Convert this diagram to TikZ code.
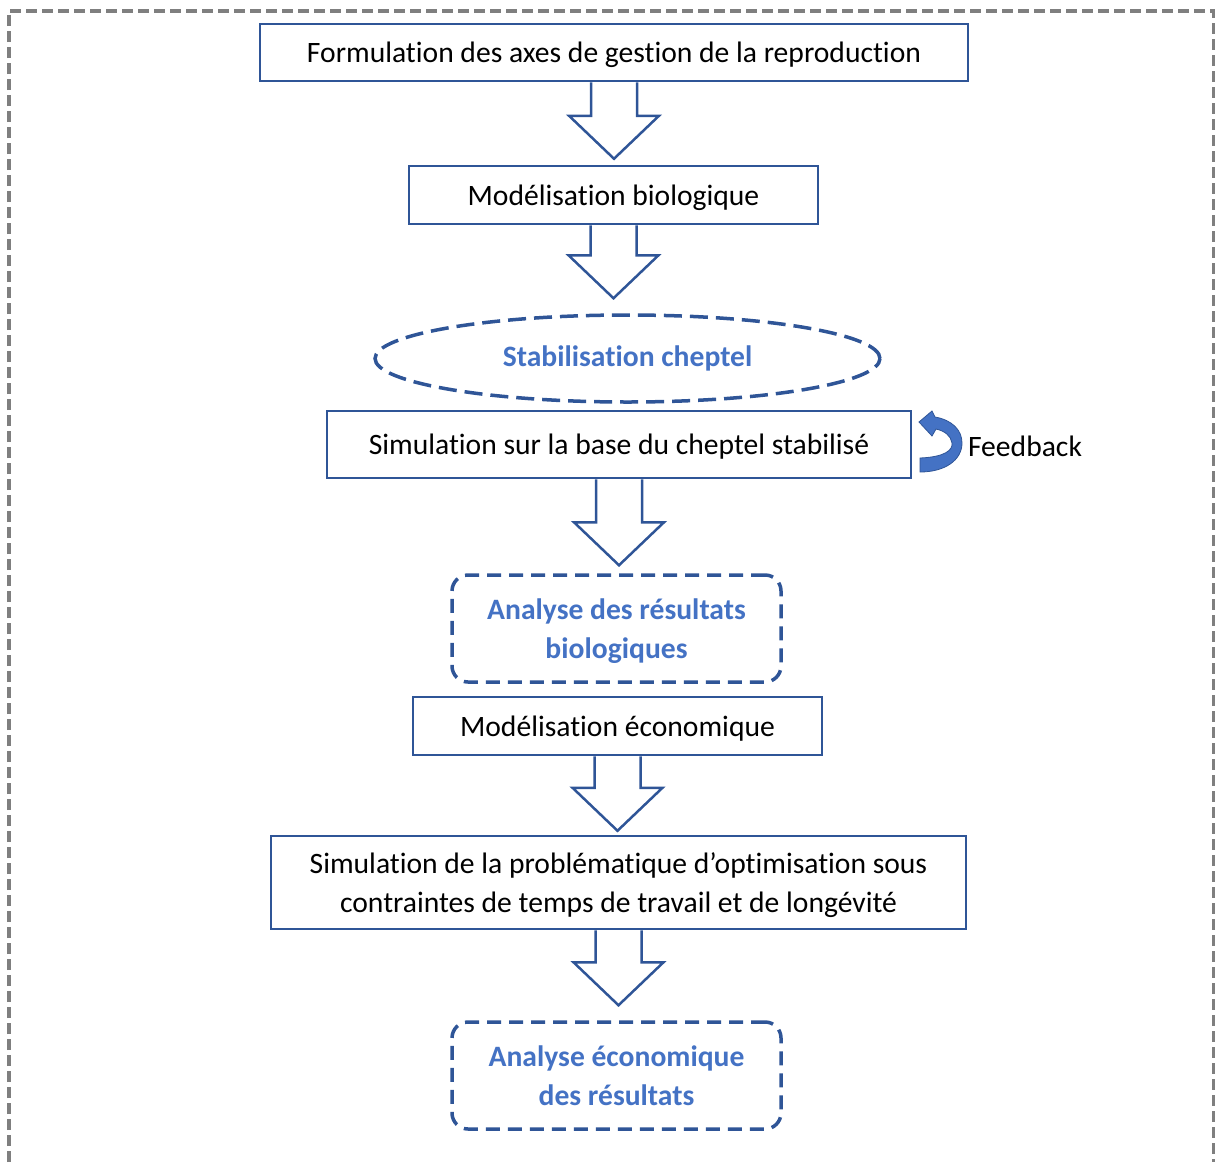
\documentclass[tikz,border=0pt]{standalone}
\usepackage{fontspec}
\setmainfont{Carlito}[Ligatures=CommonOff]
\usetikzlibrary{calc,shapes.geometric}

\definecolor{boxblue}{HTML}{2F5597}
\definecolor{txtblue}{HTML}{4472C4}
\definecolor{framegray}{HTML}{7F7F7F}

% hollow block arrow from the bottom of one node down towards the next
\newcommand{\blockarrow}[3]{%
  \draw[arrowblock] let \p1=(#1.south), \p2=(#2.north) in
    (\x1-23pt,\y1) -- (\x1-23pt,\y2+#3pt+43pt) -- (\x1-45pt,\y2+#3pt+43pt)
    -- (\x1,\y2+#3pt) -- (\x1+45pt,\y2+#3pt+43pt) -- (\x1+23pt,\y2+#3pt+43pt)
    -- (\x1+23pt,\y1);}

\begin{document}
\begin{tikzpicture}[x=1pt,y=1pt,
  every node/.style={font=\fontsize{29.6}{39}\selectfont},
  stepbox/.style={draw=boxblue,line width=2.5pt,inner sep=0pt,align=center,text depth=0pt},
  resultbox/.style={draw=boxblue,line width=3.5pt,dash pattern=on 14pt off 8pt,
    rounded corners=16pt,inner sep=0pt,align=center,text=txtblue,text depth=0pt,
    font=\fontsize{29.6}{39}\selectfont\bfseries},
  arrowblock/.style={draw=boxblue,line width=2.5pt},
  frame/.style={draw=framegray,line width=3.5pt,dash pattern=on 11pt off 5pt}]

\useasboundingbox (0,0) rectangle (1215,-1162);
\draw[frame] (9,-1162) -- (9,-11) -- (1214,-11) -- (1214,-1162);

\node[stepbox,minimum width=708,minimum height=57] (form) at (614,-52.5) {Formulation des axes de gestion de la reproduction};
\node[stepbox,minimum width=409,minimum height=58] (bio) at (613.5,-195) {Modélisation biologique};
\node[ellipse,draw=boxblue,line width=3.5pt,dash pattern=on 18pt off 8pt,
  minimum width=505,minimum height=87,inner sep=0pt,text=txtblue,
  font=\fontsize{29.6}{39}\selectfont\bfseries] (stab) at (627.5,-358.5) {Stabilisation cheptel};
\node[stepbox,minimum width=584,minimum height=67] (simbase) at (619,-444.5) {Simulation sur la base du cheptel stabilisé};
\node[resultbox,minimum width=329,minimum height=107] (resbio) at (616.5,-628.5) {Analyse des résultats\\biologiques};
\node[stepbox,minimum width=409,minimum height=58] (eco) at (617.5,-726) {Modélisation économique};
\node[stepbox,minimum width=695,minimum height=93] (simopt) at (618.5,-882.5) {Simulation de la problématique d’optimisation sous\\contraintes de temps de travail et de longévité};
\node[resultbox,minimum width=329,minimum height=107] (reseco) at (616.5,-1075.5) {Analyse économique\\des résultats};

\node (feed) at (1025,-446) {Feedback};

\blockarrow{form}{bio}{6}
\blockarrow{bio}{stab}{15}
\blockarrow{simbase}{resbio}{8}
\blockarrow{eco}{simopt}{4}
\blockarrow{simopt}{reseco}{15}

% curved feedback arrow
\fill[txtblue,draw=boxblue,line width=0.8pt]
  (920,-458) .. controls (945,-457) and (953,-450) .. (952,-443)
  .. controls (951,-436) and (945,-431) .. (936,-429) -- (932,-436) -- (919,-422)
  -- (932,-411) -- (935,-417) .. controls (952,-420) and (962,-430) .. (962,-443)
  .. controls (962,-460) and (945,-472) .. (920,-472) -- cycle;
\end{tikzpicture}
\end{document}
